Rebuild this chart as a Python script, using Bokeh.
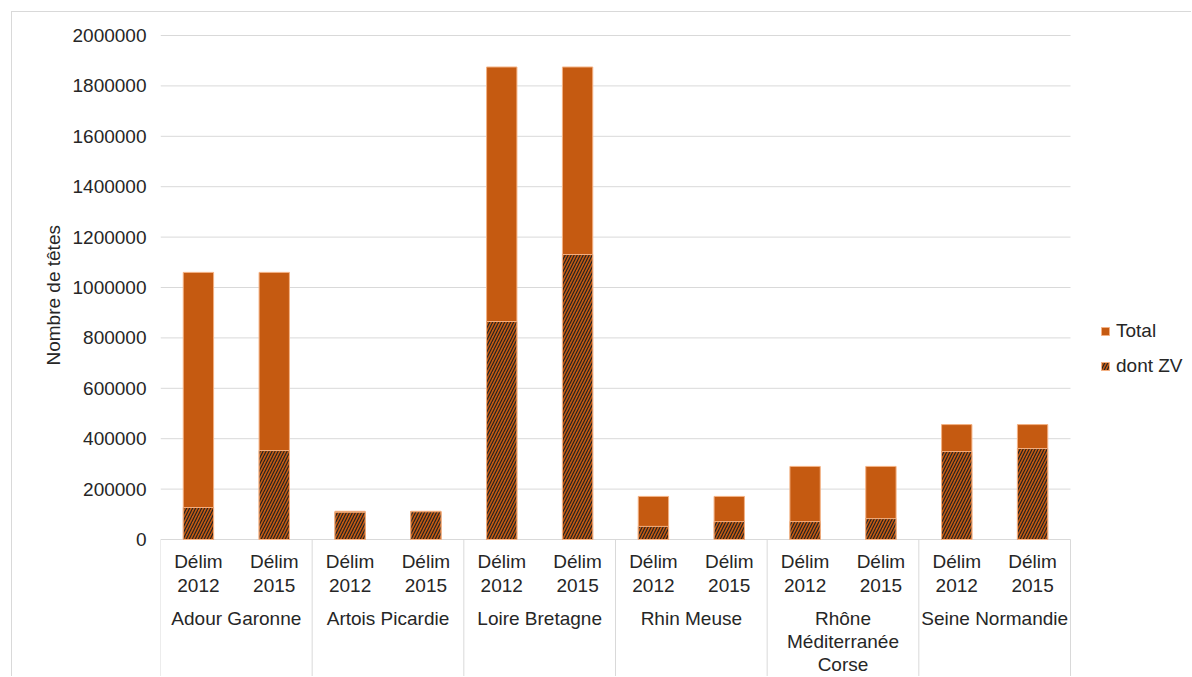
from bokeh.plotting import figure
from bokeh.models import (Range1d, FixedTicker, NumeralTickFormatter, Legend,
                          LegendItem, Title, ColumnDataSource)
from bokeh.core.properties import value
from bokeh.embed import file_html
from bokeh.resources import INLINE

# ---------------- data ----------------
groups = ["Adour Garonne", "Artois Picardie", "Loire Bretagne", "Rhin Meuse",
          "Rhône\nMéditerranée\nCorse", "Seine Normandie"]
periods = ["Délim\n2012", "Délim\n2015"]
total_2012 = [1060000, 112000, 1875000, 171000, 290000, 456000]
total_2015 = [1060000, 112000, 1875000, 171000, 290000, 456000]
zv_2012 = [127000, 108000, 865000, 52000, 71000, 349000]
zv_2015 = [353000, 110000, 1131000, 71000, 83000, 361000]
y_ticks = [0, 200000, 400000, 600000, 800000, 1000000, 1200000, 1400000,
           1600000, 1800000, 2000000]

# ---------------- styling ----------------
ORANGE = "#C55A11"
GRID = "#d9d9d9"
TXT = "#262626"
FONT = "Liberation Sans"
FS = "19px"

npg = len(periods)
nbars = len(groups) * npg
xs, sub_labels, totals, zvs = [], [], [], []
for gi in range(len(groups)):
    tvals = [total_2012[gi], total_2015[gi]]
    zvals = [zv_2012[gi], zv_2015[gi]]
    for pi in range(npg):
        xs.append(gi * npg + pi + 0.5)
        sub_labels.append(periods[pi])
        totals.append(tvals[pi])
        zvs.append(zvals[pi])
group_x = [gi * npg + npg / 2 for gi in range(len(groups))]
bounds = [gi * npg for gi in range(len(groups) + 1)]

src = ColumnDataSource(dict(x=xs, total=totals, zv=zvs, lab=sub_labels,
                            zero=[0] * len(xs)))

# layout (pixels inside the figure canvas; canvas starts 12px into the page)
W, H = 1180, 665
frame_left = 148
bars_width_px = 910                # width used by the 12 bar slots
frame_width = W - frame_left       # frame runs to the right edge (legend inside)
frame_top = 8
y0_px, ymax_px = 527, 23          # canvas y of value 0 and value 2,000,000
ppu = (y0_px - ymax_px) / 2000000.0
y_end = (y0_px - frame_top) / ppu
y_start = -(H - y0_px) / ppu
x_end = nbars * frame_width / bars_width_px

p = figure(width=W, height=H, output_backend="svg", toolbar_location=None,
           x_range=Range1d(0, x_end), y_range=Range1d(y_start, y_end),
           min_border_left=frame_left, min_border_right=0,
           min_border_top=frame_top, min_border_bottom=0)
p.outline_line_color = None
p.background_fill_color = "white"
p.border_fill_color = "white"
p.styles = {"margin-left": "11px", "margin-top": "11px",
            "border-top": "1px solid #d9d9d9", "border-left": "1px solid #d9d9d9"}

p.xaxis.visible = False
p.xgrid.visible = False
p.ygrid.visible = False
p.yaxis.ticker = FixedTicker(ticks=y_ticks)
p.yaxis.formatter = NumeralTickFormatter(format="0")
p.yaxis.axis_line_color = None
p.yaxis.major_tick_line_color = None
p.yaxis.minor_tick_line_color = None
p.yaxis.major_label_standoff = 8
p.yaxis.major_label_text_font = FONT
p.yaxis.major_label_text_font_size = FS
p.yaxis.major_label_text_color = TXT

# horizontal gridlines limited to the bar area
p.segment(x0=[0] * len(y_ticks), y0=y_ticks, x1=[nbars] * len(y_ticks), y1=y_ticks,
          line_color=GRID, line_width=1)
# group separators below the axis
p.segment(x0=bounds, y0=[0] * len(bounds), x1=bounds, y1=[y_start] * len(bounds),
          line_color=GRID, line_width=1)

r_total = p.vbar(x="x", top="total", bottom=0, width=0.4, source=src,
                 fill_color=ORANGE, line_color="#f4b183", line_width=1)
r_zv = p.vbar(x="x", top="zv", bottom=0, width=0.4, source=src,
              fill_color=ORANGE, line_color="#f4b183", line_width=1,
              hatch_pattern="/", hatch_color="#222222", hatch_weight=1.2,
              hatch_scale=6)

# category labels
p.text(x="x", y="zero", text="lab", source=src, text_align="center",
       text_baseline="top", y_offset=11, text_font=value(FONT),
       text_font_size=value(FS), text_color=TXT, text_line_height=1.15)
p.text(x=group_x, y=[0] * len(group_x), text=groups, text_align="center",
       text_baseline="top", y_offset=68, text_font=value(FONT),
       text_font_size=value(FS), text_color=TXT, text_line_height=1.1)

# axis title (left panel), placed beside the value range
p.add_layout(Title(text="Nombre de têtes", align="left", offset=312,
                   text_font=FONT, text_font_size=FS, text_font_style="normal",
                   text_color=TXT, standoff=12), "left")

legend = Legend(items=[LegendItem(label="Total", renderers=[r_total]),
                       LegendItem(label="dont ZV", renderers=[r_zv])],
                location=(bars_width_px + 30, 300), orientation="vertical",
                border_line_color=None, background_fill_alpha=0,
                margin=0, padding=0, spacing=13, glyph_width=10,
                glyph_height=10, label_standoff=6,
                label_text_font=FONT, label_text_font_size=FS,
                label_text_color=TXT)
p.add_layout(legend)

open("out.html", "w").write(file_html(p, INLINE))
